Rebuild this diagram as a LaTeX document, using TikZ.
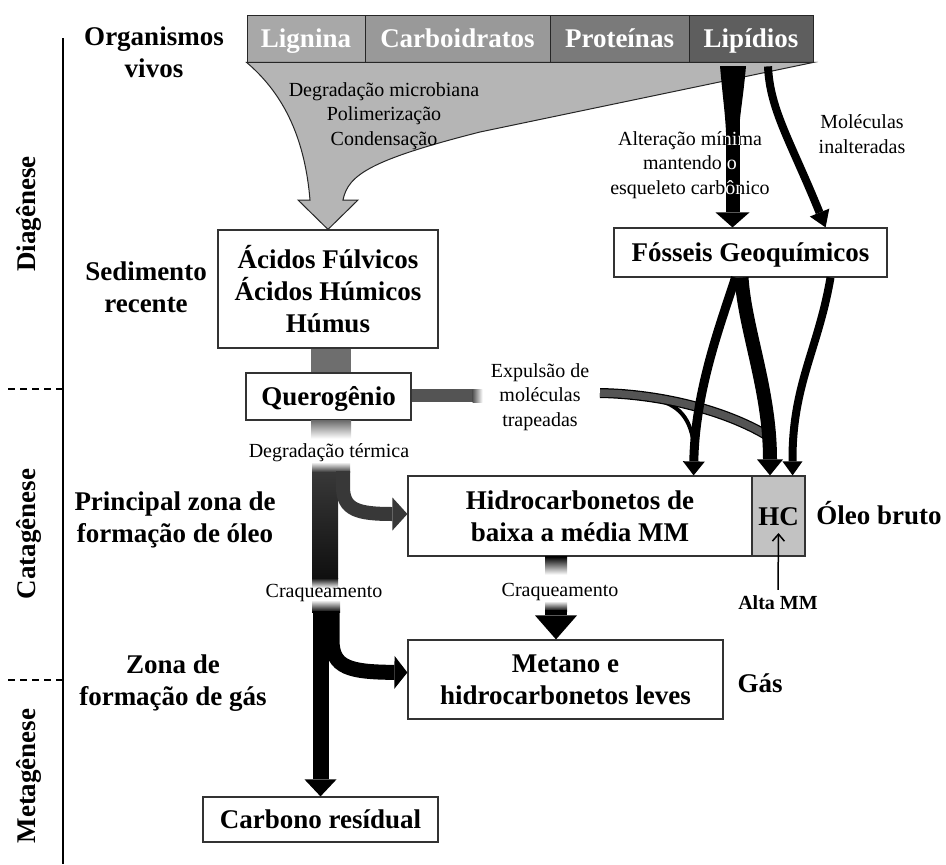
\documentclass[tikz,border=0pt]{standalone}
\usepackage{fontspec}
\setmainfont{Liberation Serif}
\usepackage{xcolor}
\usepackage{tikz}
\usetikzlibrary{arrows.meta,calc}
\definecolor{lignGray}{gray}{0.66}
\definecolor{carbGray}{gray}{0.60}
\definecolor{protGray}{gray}{0.48}
\definecolor{lipGray}{gray}{0.37}
\definecolor{funnelGray}{gray}{0.71}
\definecolor{hcGray}{gray}{0.76}
\definecolor{kerGray}{gray}{0.43}
\definecolor{expGray}{gray}{0.33}
\definecolor{oilGray}{gray}{0.22}
\definecolor{gasGray}{gray}{0.06}
\newcommand{\bigfont}{\bfseries\fontsize{27}{32}\selectfont}
\newcommand{\smallfont}{\fontsize{20}{24.5}\selectfont}
\newcommand{\altafont}{\bfseries\fontsize{20}{24}\selectfont}
\tikzset{
  geo/box/.style={draw=black!80, line width=1.2pt, fill=white, align=center, inner sep=0pt, font=\bigfont},
  geo/onebox/.style={geo/box, text height=18pt, text depth=0pt},
  geo/cell/.style={draw=black!85, line width=0.8pt, text=white, inner sep=0pt, minimum height=47pt, text height=18pt, text depth=0pt, font=\bigfont},
  geo/zone/.style={align=center, inner sep=2pt, font=\bigfont},
  geo/side/.style={inner sep=0pt, text height=18pt, text depth=0pt, font=\bigfont},
  geo/phase/.style={rotate=90, inner sep=0pt, font=\bigfont},
  geo/note/.style={align=center, inner sep=1pt, font=\smallfont},
  geo/funnel/.style={fill=funnelGray, draw=black!85, line width=1pt},
  geo/flow/.style={line width=#1, draw=black},
  geo/flow/.default=8pt,
  geo/axis/.style={line width=1.5pt},
  geo/sep/.style={line width=1.2pt, dash pattern=on 7pt off 5pt}
}

\begin{document}
\begin{tikzpicture}[x=1pt, y=-1pt]
\fill[white] (0,0) rectangle (946,864);

\draw[geo/axis] (63,38) -- (63,864);
\draw[geo/sep] (8,389) -- (63,389);
\draw[geo/sep] (8,680) -- (63,680);
\node[geo/phase] (diag) at (29,214) {Diagênese};
\node[geo/phase] (cata) at (29,534) {Catagênese};
\node[geo/phase] (meta) at (29,776) {Metagênese};

\node[geo/zone] (vivos) at (154,52) {Organismos\\vivos};
\node[geo/zone] (recente) at (146,287) {Sedimento\\recente};
\node[geo/zone] (oleozone) at (175,520) {Principal zona de\\formação de óleo};
\node[geo/zone] (gaszone) at (173,683) {Zona de\\formação de gás};

\node[geo/cell, fill=lignGray, minimum width=118pt] (lignina) at (306,38.5) {Lignina};
\node[geo/cell, fill=carbGray, minimum width=185pt] (carbo) at (457.5,38.5) {Carboidratos};
\node[geo/cell, fill=protGray, minimum width=139pt] (proteinas) at (619.5,38.5) {Proteínas};
\node[geo/cell, fill=lipGray, minimum width=124pt] (lipidios) at (751,38.5) {Lipídios};

\node[geo/box, minimum width=220pt, minimum height=118pt] (acidos) at (328,289) {Ácidos Fúlvicos\\Ácidos Húmicos\\Húmus};
\node[geo/onebox, minimum width=165pt, minimum height=47pt] (querog) at (328.5,396.5) {Querogênio};
\node[geo/onebox, minimum width=273pt, minimum height=49pt] (fosseis) at (750.5,252.5) {Fósseis Geoquímicos};
\node[geo/box, minimum width=344pt, minimum height=80pt] (hidro) at (580,516) {Hidrocarbonetos de\\baixa a média MM};
\node[geo/onebox, fill=hcGray, minimum width=53pt, minimum height=80pt] (hc) at (778.5,516) {HC};
\node[geo/box, minimum width=315pt, minimum height=79pt] (metano) at (565.5,679.5) {Metano e\\hidrocarbonetos leves};
\node[geo/onebox, minimum width=235pt, minimum height=45pt] (carbono) at (320.5,819.5) {Carbono resídual};

\node[geo/side] (oleo) at (879,515) {Óleo bruto};
\node[geo/side] (gas) at (760,683) {Gás};
\node[font=\altafont, inner sep=0pt] (alta) at (778,603) {Alta MM};

% funil da materia organica
\filldraw[geo/funnel] (lignina.south west) .. controls (285,95) and (305,140) .. (310,200) -- (298,200) -- (acidos.north) -- (358,200) -- (343,200) .. controls (348,175) and (370,160) .. (480,132) -- (lipidios.south east) -- cycle;

\coordinate (lipA) at ([xshift=-18.5pt,yshift=-4pt]lipidios.south);
\coordinate (lipB) at ([xshift=17pt,yshift=-4pt]lipidios.south);
\fill (720,66) .. controls (723,100) and (725,112) .. (726,132) -- (739,132) .. controls (740,112) and (743,100) .. (746,66) -- cycle;
\draw[geo/flow=14pt, -{Triangle[length=15pt,width=34pt,line width=0pt]}] (lipA) -- ([xshift=-18pt]fosseis.north);
\draw[geo/flow=8pt, -{Triangle[length=16pt,width=21pt,line width=0pt]}] (lipB) .. controls (770,110) and (790,140) .. ([xshift=-62pt]fosseis.north east);

\draw[geo/flow=40pt, draw=kerGray] ([xshift=3pt]acidos.south) -- ([xshift=2.5pt]querog.north);
\shade[top color=kerGray, bottom color=white] ([xshift=-17.5pt]querog.south) rectangle ([xshift=22.5pt,yshift=-18pt]querog.south);

\shade[top color=white, bottom color=oilGray] (312,462) rectangle (350,472);
\shade[top color=oilGray, bottom color=gasGray] (312,472) rectangle (338,578);
\shade[top color=gasGray, bottom color=white] (312,578) rectangle (338,588);
\coordinate (oilFork) at (343,471);
\draw[geo/flow=14pt, draw=oilGray, -{Triangle[length=15pt,width=33pt,line width=0pt]}] (oilFork) -- (343,487) .. controls (343,510) and (358,514) .. ([yshift=2pt]hidro.west);

\shade[top color=white, bottom color=black] (312,600) rectangle (340,612);
\coordinate (resTop) at (320.5,611);
\coordinate (gasFork) at (332,611);
\draw[geo/flow=16pt, -{Triangle[length=17pt,width=32pt,line width=0pt]}] (resTop) -- (carbono.north);
\draw[geo/flow=15pt, -{Triangle[length=13pt,width=33pt,line width=0pt]}] (gasFork) -- (332,640) .. controls (332,668) and (350,672) .. ([yshift=7pt]metano.west);

\shade[top color=black, bottom color=white] ([xshift=-35pt]hidro.south) rectangle ([xshift=-13pt,yshift=-18pt]hidro.south);
\shade[top color=white, bottom color=black] (545,601) rectangle (567,611);
\coordinate (crackTop) at (556,610);
\draw[geo/flow=22pt, -{Triangle[length=24pt,width=42pt,line width=0pt]}] (crackTop) -- ([xshift=-9.5pt]metano.north);

% expulsao
\fill[expGray] ([yshift=7.5pt]querog.east) rectangle ([xshift=61pt,yshift=-5.5pt]querog.east);
\shade[left color=expGray, right color=white] ([xshift=61pt,yshift=7.5pt]querog.east) rectangle ([xshift=71pt,yshift=-5.5pt]querog.east);
\coordinate (expA) at (600,393);
\coordinate (expB) at (768,436);
\draw[geo/flow=4pt] (645,398) .. controls (675,401) and (690,414) .. (694,445);
\draw[geo/flow=10pt] (expA) .. controls (660,394) and (725,410) .. (expB);
\draw[geo/flow=7.5pt, draw=expGray] (expA) .. controls (660,394) and (725,410) .. (expB);

\draw[geo/flow=9pt, -{Triangle[length=14pt,width=22pt,line width=0pt]}] ([xshift=-15pt]fosseis.south) .. controls (722,320) and (695,390) .. ([xshift=-59pt]hidro.north east);
\draw[geo/flow=14pt, -{Triangle[length=16pt,width=26pt,line width=0pt]}] ([xshift=-9pt]fosseis.south) .. controls (745,330) and (770,390) .. ([xshift=-8.5pt]hc.north);
\draw[geo/flow=8pt, -{Triangle[length=14pt,width=20pt,line width=0pt]}] ([xshift=80pt]fosseis.south) .. controls (818,350) and (792,385) .. ([xshift=-13pt]hc.north east);

\draw[line width=1.5pt, -{Straight Barb[length=7pt,width=12pt]}] ([yshift=6pt]alta.north) -- ([yshift=-17pt]hc.center);

\node[geo/note] (microb) at (384,116) {Degradação microbiana\\Polimerização\\Condensação};
\begin{scope}[blend mode=difference]
\node[geo/note, text=white] (minima) at (690,165) {Alteração mínima\\mantendo o\\esqueleto carbônico};
\end{scope}
\node[geo/note] (inalt) at (862,134) {Moléculas\\inalteradas};
\node[geo/note] (expuls) at (540,397) {Expulsão de\\moléculas\\trapeadas};
\node[geo/note] (degterm) at (329,453) {Degradação térmica};
\node[geo/note] (craqA) at (324,593) {Craqueamento};
\node[geo/note] (craqB) at (560,592) {Craqueamento};
\end{tikzpicture}
\end{document}
